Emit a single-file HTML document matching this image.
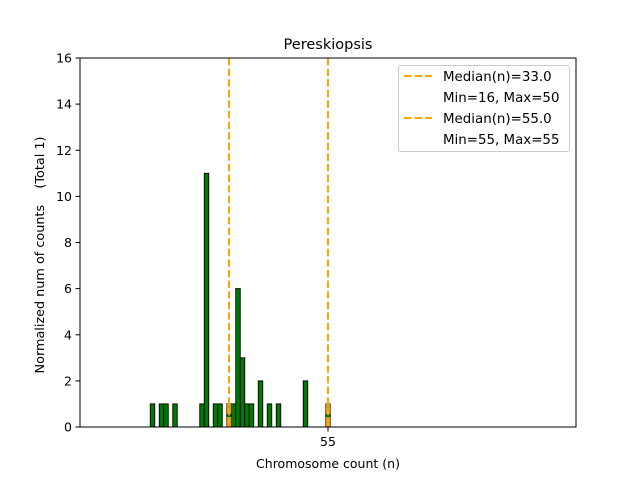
<!DOCTYPE html>
<html><head><meta charset="utf-8"><style>body{margin:0;background:#fff}svg{display:block}text{font-family:"DejaVu Sans","Liberation Sans",sans-serif;fill:#000}</style></head>
<body>
<svg width="640" height="480" viewBox="0 0 640 480" xmlns="http://www.w3.org/2000/svg">
<rect width="640" height="480" fill="#fff"/>
<text x="328" y="49" font-size="14.5" text-anchor="middle">Pereskiopsis</text>
<g fill="#007a00" stroke="#000" stroke-width="0.9">
<rect x="150.25" y="403.9" width="4.5" height="23.1"/>
<rect x="159.25" y="403.9" width="4.5" height="23.1"/>
<rect x="163.75" y="403.9" width="4.5" height="23.1"/>
<rect x="172.75" y="403.9" width="4.5" height="23.1"/>
<rect x="199.75" y="403.9" width="4.5" height="23.1"/>
<rect x="204.25" y="173.3" width="4.5" height="253.7"/>
<rect x="213.25" y="403.9" width="4.5" height="23.1"/>
<rect x="217.75" y="403.9" width="4.5" height="23.1"/>
<rect x="226.75" y="403.9" width="4.5" height="23.1"/>
<rect x="231.25" y="403.9" width="4.5" height="23.1"/>
<rect x="235.75" y="288.6" width="4.5" height="138.4"/>
<rect x="240.25" y="357.8" width="4.5" height="69.2"/>
<rect x="244.75" y="403.9" width="4.5" height="23.1"/>
<rect x="249.25" y="403.9" width="4.5" height="23.1"/>
<rect x="258.25" y="380.9" width="4.5" height="46.1"/>
<rect x="267.25" y="403.9" width="4.5" height="23.1"/>
<rect x="276.25" y="403.9" width="4.5" height="23.1"/>
<rect x="303.25" y="380.9" width="4.5" height="46.1"/>
<rect x="325.75" y="403.9" width="4.5" height="23.1"/>
</g>
<g fill="#f5a623" fill-opacity="0.85" stroke="none">
<rect x="226.75" y="403.9" width="4.5" height="10"/>
<rect x="226.75" y="417" width="4.5" height="10"/>
<rect x="325.75" y="403.9" width="4.5" height="10"/>
<rect x="325.75" y="417" width="4.5" height="10"/>
</g>
<g stroke="#ffa500" stroke-width="2" stroke-dasharray="7.4,3.2">
<line x1="229" y1="58" x2="229" y2="427"/>
<line x1="328" y1="58" x2="328" y2="427"/>
</g>
<rect x="80" y="58" width="496" height="369" fill="none" stroke="#000" stroke-width="1"/>
<g stroke="#000" stroke-width="1">
<line x1="75.5" y1="427" x2="80" y2="427"/><line x1="75.5" y1="380.9" x2="80" y2="380.9"/>
<line x1="75.5" y1="334.8" x2="80" y2="334.8"/><line x1="75.5" y1="288.6" x2="80" y2="288.6"/>
<line x1="75.5" y1="242.5" x2="80" y2="242.5"/><line x1="75.5" y1="196.4" x2="80" y2="196.4"/>
<line x1="75.5" y1="150.3" x2="80" y2="150.3"/><line x1="75.5" y1="104.1" x2="80" y2="104.1"/>
<line x1="75.5" y1="58" x2="80" y2="58"/>
<line x1="328" y1="427" x2="328" y2="431.5"/>
</g>
<g font-size="12.5" text-anchor="end">
<text x="72" y="431.5">0</text><text x="72" y="385.4">2</text><text x="72" y="339.3">4</text>
<text x="72" y="293.1">6</text><text x="72" y="247">8</text><text x="72" y="200.9">10</text>
<text x="72" y="154.8">12</text><text x="72" y="108.6">14</text><text x="72" y="62.5">16</text>
</g>
<text x="328" y="446" font-size="12.5" text-anchor="middle">55</text>
<text x="328" y="468" font-size="12.5" text-anchor="middle">Chromosome count (n)</text>
<text transform="translate(44,255) rotate(-90)" font-size="12.8" text-anchor="middle" xml:space="preserve">Normalized num of counts    (Total 1)</text>
<rect x="398.5" y="65.5" width="171" height="86" rx="2" fill="#fff" fill-opacity="0.8" stroke="#ccc"/>
<g stroke="#ffa500" stroke-width="2" stroke-dasharray="7.4,3.2">
<line x1="404" y1="76" x2="432" y2="76"/>
<line x1="404" y1="118" x2="432" y2="118"/>
</g>
<g font-size="13.4">
<text x="443" y="81">Median(n)=33.0</text>
<text x="443" y="102">Min=16, Max=50</text>
<text x="443" y="123">Median(n)=55.0</text>
<text x="443" y="144">Min=55, Max=55</text>
</g>
</svg>
</body></html>
